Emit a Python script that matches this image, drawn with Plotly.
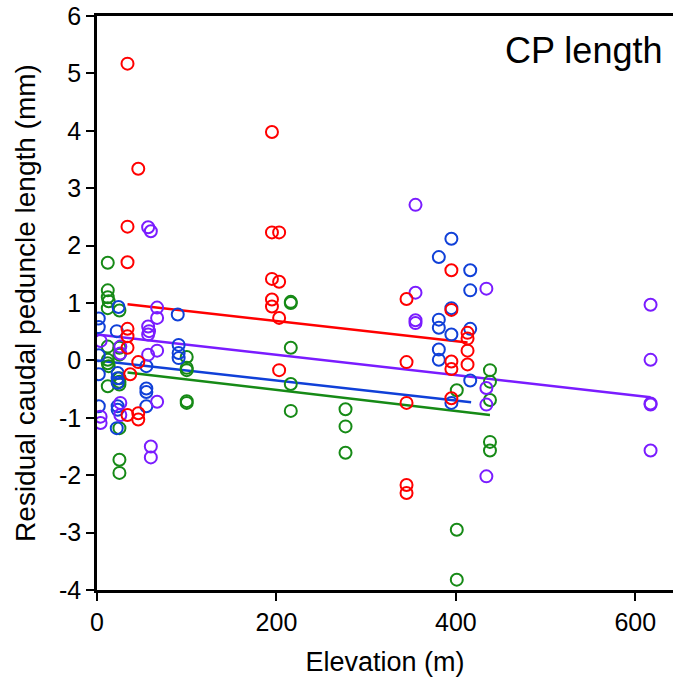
import plotly.graph_objects as go

# ---- data ----
red_x = [34, 34, 34, 34, 34, 34, 37, 34,
         46, 46, 46, 46,
         195, 195, 195, 195, 195,
         203, 203, 203, 203,
         345, 345, 345, 345, 345,
         395, 395, 395, 395, 395,
         413, 413, 413, 413]
red_y = [5.17, 2.33, 1.71, 0.55, 0.42, 0.22, -0.24, -0.95,
         3.34, -0.03, -0.92, -1.03,
         3.98, 2.23, 1.42, 1.06, 0.94,
         2.23, 1.37, 0.74, -0.17,
         1.07, -0.03, -0.74, -2.17, -2.31,
         1.57, 0.88, -0.02, -0.15, -0.66,
         0.48, 0.38, 0.17, -0.07]

blue_x = [2, 2, 2, 2, 2,
          24, 22, 23, 23, 23, 23, 23, 22,
          55, 55, 55, 55,
          90, 91, 91, 91,
          381, 381, 381, 381, 381,
          395, 395, 395, 395,
          416, 416, 416, 416]
blue_y = [0.73, 0.58, 0.09, -0.24, -0.80,
          0.93, 0.51, -0.22, -0.31, -0.39, -0.80, -0.86, -1.18,
          -0.10, -0.49, -0.55, -0.80,
          0.80, 0.27, 0.13, 0.04,
          1.80, 0.71, 0.57, 0.19, 0.01,
          2.12, 0.91, 0.45, -0.74,
          1.57, 1.22, 0.55, -0.35]

purple_x = [4, 4, 4,
            26, 26, 26, 26,
            57, 60, 57, 58, 57, 57, 60, 60,
            67, 67, 67, 67,
            355, 355, 355, 355,
            434, 434, 434, 434,
            617, 617, 617, 617, 617]
purple_y = [0.34, -0.98, -1.09,
            0.24, 0.12, -0.74, -0.95,
            2.32, 2.25, 0.59, 0.51, 0.45, 0.10, -1.50, -1.69,
            0.92, 0.74, 0.17, -0.72,
            2.71, 1.18, 0.70, 0.65,
            1.25, -0.48, -0.77, -2.02,
            0.97, 0.01, -0.75, -0.77, -1.57]

green_x = [12, 12, 12, 13, 12, 12, 12, 12, 13, 12,
           25, 25, 25, 25, 25, 25, 25, 25, 25,
           100, 100, 100, 100, 100,
           216, 216, 216, 216, 216,
           277, 277, 277,
           401, 401, 401,
           438, 438, 438, 438, 438]
green_y = [1.70, 1.22, 1.10, 1.03, 0.91, 0.24, 0.01, -0.05, -0.10, -0.45,
           0.87, 0.22, 0.10, -0.31, -0.37, -0.42, -1.18, -1.73, -1.96,
           0.06, -0.13, -0.17, -0.71, -0.74,
           1.00, 1.02, 0.22, -0.41, -0.88,
           -0.85, -1.15, -1.61,
           -0.52, -2.95, -3.82,
           -0.17, -0.37, -0.69, -1.42, -1.57]

# fitted regression lines (start/end)
red_fit_x = [34, 413]
red_fit_y = [0.98, 0.31]
purple_fit_x = [0, 617]
purple_fit_y = [0.45, -0.64]
blue_fit_x = [0, 417]
blue_fit_y = [0.0, -0.73]
green_fit_x = [34, 438]
green_fit_y = [-0.21, -0.95]

x_ticks = [0, 200, 400, 600]
x_labels = ["0", "200", "400", "600"]
y_ticks = [-4, -3, -2, -1, 0, 1, 2, 3, 4, 5, 6]
y_labels = ["-4", "-3", "-2", "-1", "0", "1", "2", "3", "4", "5", "6"]

RED = "#FF0000"
BLUE = "#1040D8"
PURPLE = "#7A1CFF"
GREEN = "#168A16"

fig = go.Figure()

for fx, fy, col in [(red_fit_x, red_fit_y, RED), (purple_fit_x, purple_fit_y, PURPLE),
                    (blue_fit_x, blue_fit_y, BLUE), (green_fit_x, green_fit_y, GREEN)]:
    fig.add_trace(go.Scatter(x=fx, y=fy, mode="lines",
                             line=dict(color=col, width=2.5), showlegend=False,
                             hoverinfo="skip"))

for xs, ys, col in [(green_x, green_y, GREEN), (blue_x, blue_y, BLUE),
                    (purple_x, purple_y, PURPLE), (red_x, red_y, RED)]:
    fig.add_trace(go.Scatter(x=xs, y=ys, mode="markers",
                             marker=dict(symbol="circle-open", size=12,
                                         color=col, line=dict(color=col, width=2)),
                             showlegend=False))

FONT = "Arial, Liberation Sans, sans-serif"

fig.update_layout(
    width=673, height=689,
    margin=dict(l=97, r=0, t=16, b=99),
    paper_bgcolor="white", plot_bgcolor="white",
    font=dict(family=FONT, size=25, color="black"),
    xaxis=dict(range=[0, 642], tickvals=x_ticks, ticktext=x_labels,
               ticks="outside", ticklen=8, automargin=False,
               tickwidth=2, tickcolor="black", showline=True, linecolor="black",
               linewidth=2.5, mirror=True, showgrid=False, zeroline=False,
               title=dict(text="Elevation (m)", standoff=18, font=dict(size=27)),
               tickfont=dict(size=25)),
    yaxis=dict(range=[-4, 6], tickvals=y_ticks, ticktext=y_labels,
               ticks="outside", ticklen=8, automargin=False,
               tickwidth=2, tickcolor="black", showline=True, linecolor="black",
               linewidth=2.5, showgrid=False, zeroline=False,
               title=dict(text="Residual caudal peduncle length (mm)", standoff=16,
                          font=dict(size=28)),
               tickfont=dict(size=25)),
    annotations=[dict(text="CP length", xref="paper", yref="paper",
                      x=0.985, y=0.94, xanchor="right", yanchor="middle",
                      showarrow=False, font=dict(size=36, family=FONT))],
)

fig.write_html("out.html")
